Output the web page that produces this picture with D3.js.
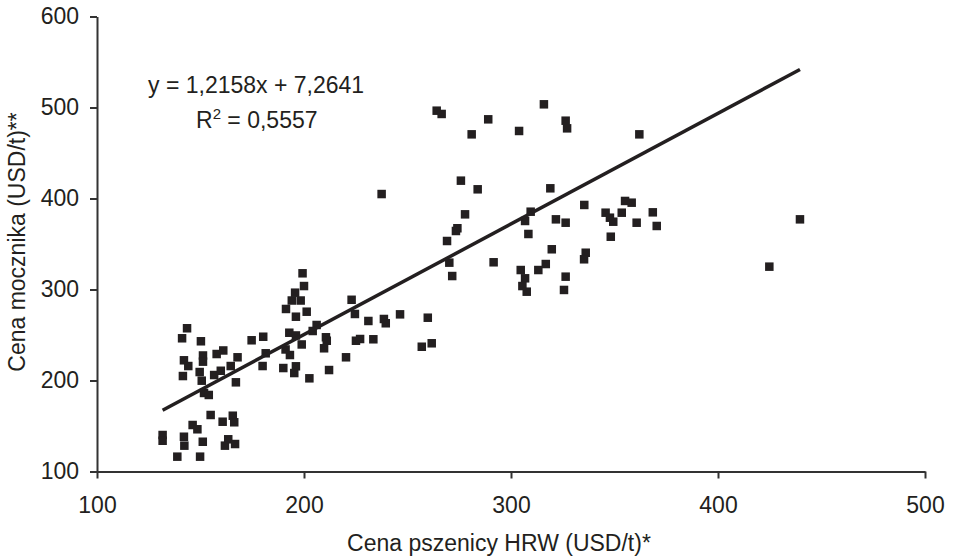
<!DOCTYPE html>
<html>
<head>
<meta charset="utf-8">
<script src="https://cdn.jsdelivr.net/npm/d3@7"></script>
<style>
  body { margin: 0; background: #fff; }
  svg { display: block; }
</style>
</head>
<body>
<div id="chart"></div>
<script>
// wheat price HRW (x) and flour price (y)
var wheat = [
  264.1, 266.5, 237.5, 275.8, 274.1, 273.4, 269.1, 270.2, 271.6, 199.3,
  200, 195.7, 194.1, 198.4, 223, 191.3, 196.1, 201.3, 224.6, 231.1,
  238.6, 239.5, 246.4, 259.8, 206.1, 204.2, 192.9, 196.1, 210.6, 211,
  198.9, 209.7, 191.1, 193.2, 225.1, 227.1, 233.5, 256.9, 261.7, 220.3,
  190, 196.1, 195.3, 202.6, 212.1, 315.9, 289, 281, 303.9, 326.4,
  327.1, 362, 283.9, 319, 277.8, 291.6, 335.4, 309.5, 306.8, 308.4,
  321.7, 326.4, 345.7, 347.8, 349.4, 353.5, 355.1, 358.3, 360.7, 368.5,
  370.4, 348.2, 319.7, 316.8, 313.2, 304.7, 306.8, 305.5, 307.6, 326.4,
  325.6, 336.1, 335.3, 439.6, 424.8, 143.5, 141.1, 150.2, 174.7, 180.3,
  142, 144.1, 151.2, 151.2, 157.8, 161, 167.9, 181.5, 141.5, 149.6,
  150.6, 156.6, 159.8, 164.6, 180, 167.1, 151.7, 154, 154.9, 165.6,
  166.3, 160.7, 146.2, 148.5, 131.7, 131.7, 142, 142.2, 151.1, 163.4,
  161.8, 166.7, 138.8, 149.8
];
var flour = [
  496.5, 492.9, 404.9, 419.6, 367.3, 364.3, 353.3, 329.5, 314.8, 317.8,
  303.8, 296.5, 287.9, 287.9, 288.7, 278.6, 270.1, 275.6, 273.1, 265.4,
  267.6, 262.9, 272.7, 269, 261, 254.4, 252.5, 249.5, 247.5, 243.7,
  239.6, 235.4, 234.1, 228, 243.7, 245.6, 245.3, 237.1, 240.9, 225.5,
  213.7, 215.6, 208.2, 202.4, 211.5, 503.5, 487, 470.5, 474.2, 485.5,
  477.1, 470.5, 410.1, 411.2, 382.6, 329.9, 392.9, 385.5, 375.3, 361,
  377.1, 373.4, 384.4, 378.9, 374.5, 384.4, 397.3, 395.4, 373.4, 384.8,
  369.8, 358, 344.2, 328, 321.4, 321.4, 312.3, 303.8, 297.6, 314.1,
  299.5, 340.4, 333.2, 377.1, 325.1, 257.4, 246.4, 243.1, 244.2, 248.1,
  222.2, 215.9, 227.5, 220.7, 229.1, 233, 225.5, 229.9, 204.9, 209.3,
  199.8, 206, 210.7, 215.9, 215.9, 198, 186.3, 184.1, 162.1, 161.3,
  154.1, 154.7, 151.1, 146.4, 140.1, 133.8, 138.2, 128.4, 132.7, 135.4,
  128.4, 130.2, 116.3, 116.3
];
var xTicks = [100, 200, 300, 400, 500];
var yTicks = [100, 200, 300, 400, 500, 600];

// trend line as printed on the chart
var trendSlope = 1.2158;
var trendIntercept = 7.2641;
var eqText = "y = 1,2158x + 7,2641";
var r2Text = " = 0,5557";

var xTitle = "Cena pszenicy HRW (USD/t)*";
var yTitle = "Cena mocznika (USD/t)**";

var width = 953;
var height = 557;
var margin = {top: 16.5, right: 28, bottom: 85.5, left: 97};
var ink = "#231f20";
var font = "'Liberation Sans', Arial, sans-serif";

var svg = d3.select("#chart")
    .append("svg")
    .attr("width", width)
    .attr("height", height);

var g = svg.append("g").attr("transform", "translate(" + margin.left + "," + margin.top + ")");

var w = width - margin.left - margin.right;
var h = height - margin.top - margin.bottom;

var x = d3.scaleLinear().domain([100, 500]).range([0, w]);
var y = d3.scaleLinear().domain([100, 600]).range([h, 0]);

var points = wheat.map(function(d, i) { return {x: d, y: flour[i]}; });

// axes
var xAxis = g.append("g")
    .attr("transform", "translate(0," + h + ")")
    .call(d3.axisBottom(x).tickValues(xTicks).tickSize(7).tickSizeOuter(0).tickPadding(18));

var yAxis = g.append("g")
    .call(d3.axisLeft(y).tickValues(yTicks).tickSize(7).tickSizeOuter(0).tickPadding(11));

[xAxis, yAxis].forEach(function(a) {
  a.select(".domain").attr("stroke", "#333").attr("stroke-width", 2);
  a.selectAll(".tick line").attr("stroke", "#333").attr("stroke-width", 2);
  a.selectAll(".tick text")
      .attr("fill", ink)
      .style("font-family", font)
      .style("font-size", "23px");
});

// squares
var size = 8.5;
g.selectAll(".pt")
    .data(points)
  .enter().append("rect")
    .attr("class", "pt")
    .attr("x", function(d) { return x(d.x) - size / 2; })
    .attr("y", function(d) { return y(d.y) - size / 2; })
    .attr("width", size)
    .attr("height", size)
    .attr("fill", ink);

// linear trend
var ext = d3.extent(wheat);
g.append("line")
    .attr("x1", x(ext[0]))
    .attr("y1", y(trendSlope * ext[0] + trendIntercept))
    .attr("x2", x(ext[1]))
    .attr("y2", y(trendSlope * ext[1] + trendIntercept))
    .attr("stroke", ink)
    .attr("stroke-width", 3.5);

// equation
svg.append("text")
    .attr("x", 148)
    .attr("y", 93)
    .attr("fill", ink)
    .style("font-family", font)
    .style("font-size", "23px")
    .text(eqText);

var r2 = svg.append("text")
    .attr("x", 196)
    .attr("y", 128)
    .attr("fill", ink)
    .style("font-family", font)
    .style("font-size", "23px");
r2.append("tspan").text("R");
r2.append("tspan").attr("dy", -9).style("font-size", "15px").text("2");
r2.append("tspan").attr("dy", 9).text(r2Text);

// axis titles
svg.append("text")
    .attr("x", 499)
    .attr("y", 551)
    .attr("text-anchor", "middle")
    .attr("fill", ink)
    .style("font-family", font)
    .style("font-size", "23px")
    .text(xTitle);

svg.append("text")
    .attr("transform", "translate(25,242) rotate(-90)")
    .attr("text-anchor", "middle")
    .attr("fill", ink)
    .style("font-family", font)
    .style("font-size", "23px")
    .text(yTitle);
</script>
</body>
</html>
